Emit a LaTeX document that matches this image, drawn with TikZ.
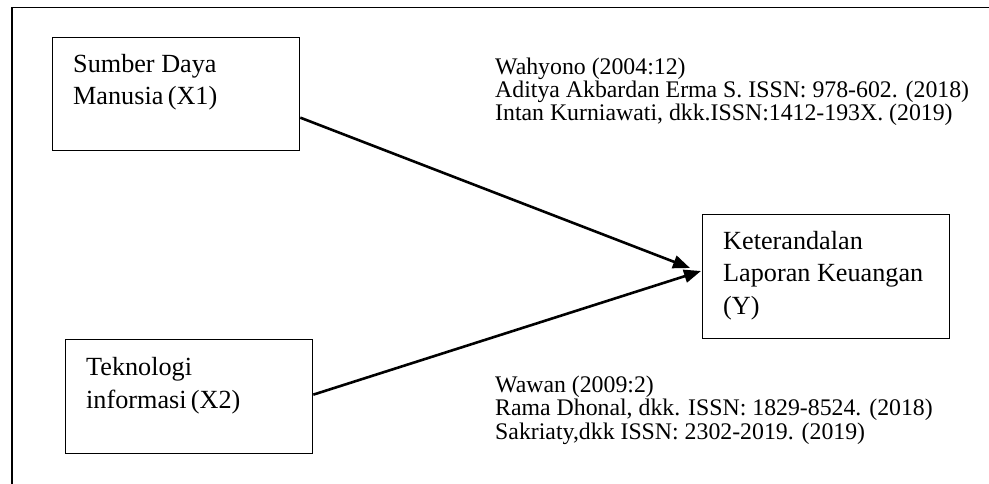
\documentclass[tikz,border=0pt]{standalone}
\usepackage{fontspec}
\setmainfont{Liberation Serif}
\usetikzlibrary{arrows.meta}
\begin{document}
\begin{tikzpicture}[x=1pt,y=-1pt,
  box/.style={draw=black, line width=1.3pt, rectangle, inner sep=0pt, anchor=north west},
  boxtext/.style={anchor=base west, align=left, inner sep=0pt, font=\fontsize{26.2}{32.5}\selectfont},
  reftext/.style={anchor=base west, align=left, inner sep=0pt, font=\fontsize{23.8}{23.3}\selectfont},
  arr/.style={line width=2.6pt, -{Triangle[length=17pt,width=13pt]}},
  frame/.style={line width=1.5pt}]
\useasboundingbox (0,0) rectangle (989,484);
% outer frame (top and left edges)
\coordinate (fr1) at (12,484);
\coordinate (fr2) at (12,7.5);
\coordinate (fr3) at (989,7.5);
\draw[frame] (fr1) -- (fr2) -- (fr3);
% boxes
\node[box, minimum width=247pt, minimum height=113pt] (x1) at (52,37) {};
\node[box, minimum width=247pt, minimum height=114pt] (x2) at (65,339) {};
\node[box, minimum width=247pt, minimum height=124pt] (y) at (702,214) {};
% box texts (anchor = baseline of last line)
\node[boxtext] (x1t) at (73,105) {Sumber Daya\\Manusia\,(X1)};
\node[boxtext] (x2t) at (86,408) {Teknologi\\informasi\,(X2)};
\node[boxtext] (yt) at (723,314) {Keterandalan\\Laporan Keuangan\\(Y)};
% reference texts
\node[reftext] (r1) at (495,121) {Wahyono (2004:12)\\Aditya Akbardan Erma S. ISSN: 978-602. (2018)\\Intan Kurniawati, dkk.ISSN:1412-193X. (2019)};
\node[reftext] (r2) at (495,439) {Wawan (2009:2)\\Rama Dhonal, dkk. ISSN: 1829-8524. (2018)\\Sakriaty,dkk ISSN: 2302-2019. (2019)};
% arrows
\coordinate (t1) at (690,268);
\coordinate (t2) at (701,271);
\draw[arr] ([yshift=-23.5pt]x1.east) -- (t1);
\draw[arr] ([yshift=2pt]x2.east) -- (t2);
\end{tikzpicture}
\end{document}
